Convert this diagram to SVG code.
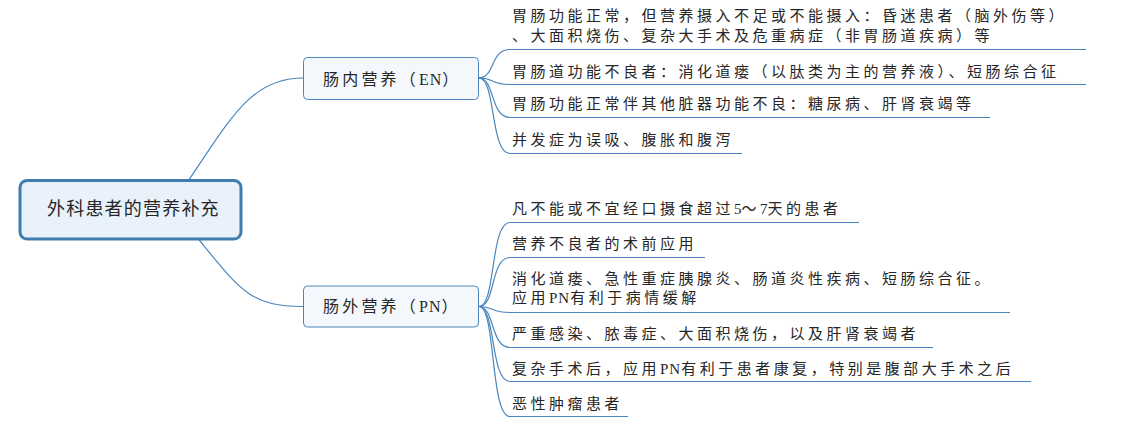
<svg xmlns="http://www.w3.org/2000/svg" width="1136" height="426" viewBox="0 0 1136 426">
<style>
text{font-family:"Liberation Serif","Noto Sans CJK SC",serif;fill:#262626}
.leaf{font-size:15px;letter-spacing:3.5px}
.main{font-size:16px;letter-spacing:3.2px}
.root{font-size:18px;letter-spacing:1.2px}
.lat{letter-spacing:1px}
.dig{letter-spacing:0px}
.con path{fill:none;stroke:#4a86bd;stroke-width:1.2}
</style>
<rect width="1136" height="426" fill="#ffffff"/>
<g id="connectors" class="con">
<path d="M186,184 C230,120 250,78 303,78"/>
<path d="M196,236 C240,290 250,306.5 303,306.5"/>
<path d="M479,78 C495,78 490,49.5 510,49.5 L1086,49.5"/>
<path d="M479,78 C495,78 490,84.5 510,84.5 L1086,84.5"/>
<path d="M479,78 C495,78 490,117.5 510,117.5 L990,117.5"/>
<path d="M479,78 C496,78 490,153.5 510,153.5 L742,153.5"/>
<path d="M479,306.5 C496,306.5 490,222.5 510,222.5 L859,222.5"/>
<path d="M479,306.5 C496,306.5 490,257.5 510,257.5 L705,257.5"/>
<path d="M479,306.5 C495,306.5 490,312.5 510,312.5 L1010,312.5"/>
<path d="M479,306.5 C495,306.5 490,347.5 510,347.5 L933,347.5"/>
<path d="M479,306.5 C496,306.5 490,381.5 510,381.5 L1031,381.5"/>
<path d="M479,306.5 C496,306.5 490,416.5 510,416.5 L628,416.5"/>
</g>
<g id="root">
<rect x="20" y="180.5" width="221" height="58.5" rx="7" fill="#e9f1fa" stroke="#3f7dae" stroke-width="3"/>
<text class="root" x="47" y="215">外科患者的营养补充</text>
</g>
<g id="en">
<rect x="303.5" y="57.5" width="175" height="42" rx="4" fill="#f4f8fc" stroke="#4a86bd" stroke-width="1"/>
<text class="main" x="323" y="85">肠内营养（<tspan class="lat">EN</tspan>）</text>
</g>
<g id="pn">
<rect x="303.5" y="286" width="175" height="41" rx="4" fill="#f4f8fc" stroke="#4a86bd" stroke-width="1"/>
<text class="main" x="323" y="312">肠外营养（<tspan class="lat">PN</tspan>）</text>
</g>
<g id="en1"><text class="leaf" x="512" y="21">胃肠功能正常，但营养摄入不足或不能摄入：昏迷患者（脑外伤等）</text><text class="leaf" x="512" y="41">、大面积烧伤、复杂大手术及危重病症（非胃肠道疾病）等</text></g>
<g id="en2"><text class="leaf" x="512" y="77">胃肠道功能不良者：消化道瘘（以肽类为主的营养液）、短肠综合征</text></g>
<g id="en3"><text class="leaf" x="512" y="109">胃肠功能正常伴其他脏器功能不良：糖尿病、肝肾衰竭等</text></g>
<g id="en4"><text class="leaf" x="512" y="145">并发症为误吸、腹胀和腹泻</text></g>
<g id="pn1"><text class="leaf" x="512" y="214">凡不能或不宜经口摄食超过<tspan class="dig">5</tspan>～<tspan class="dig">7</tspan>天的患者</text></g>
<g id="pn2"><text class="leaf" x="512" y="249">营养不良者的术前应用</text></g>
<g id="pn3"><text class="leaf" x="512" y="284">消化道瘘、急性重症胰腺炎、肠道炎性疾病、短肠综合征。</text><text class="leaf" x="512" y="303">应用<tspan class="lat">PN</tspan>有利于病情缓解</text></g>
<g id="pn4"><text class="leaf" x="512" y="339">严重感染、脓毒症、大面积烧伤，以及肝肾衰竭者</text></g>
<g id="pn5"><text class="leaf" x="512" y="374">复杂手术后，应用<tspan class="lat">PN</tspan>有利于患者康复，特别是腹部大手术之后</text></g>
<g id="pn6"><text class="leaf" x="512" y="409">恶性肿瘤患者</text></g>
</svg>
